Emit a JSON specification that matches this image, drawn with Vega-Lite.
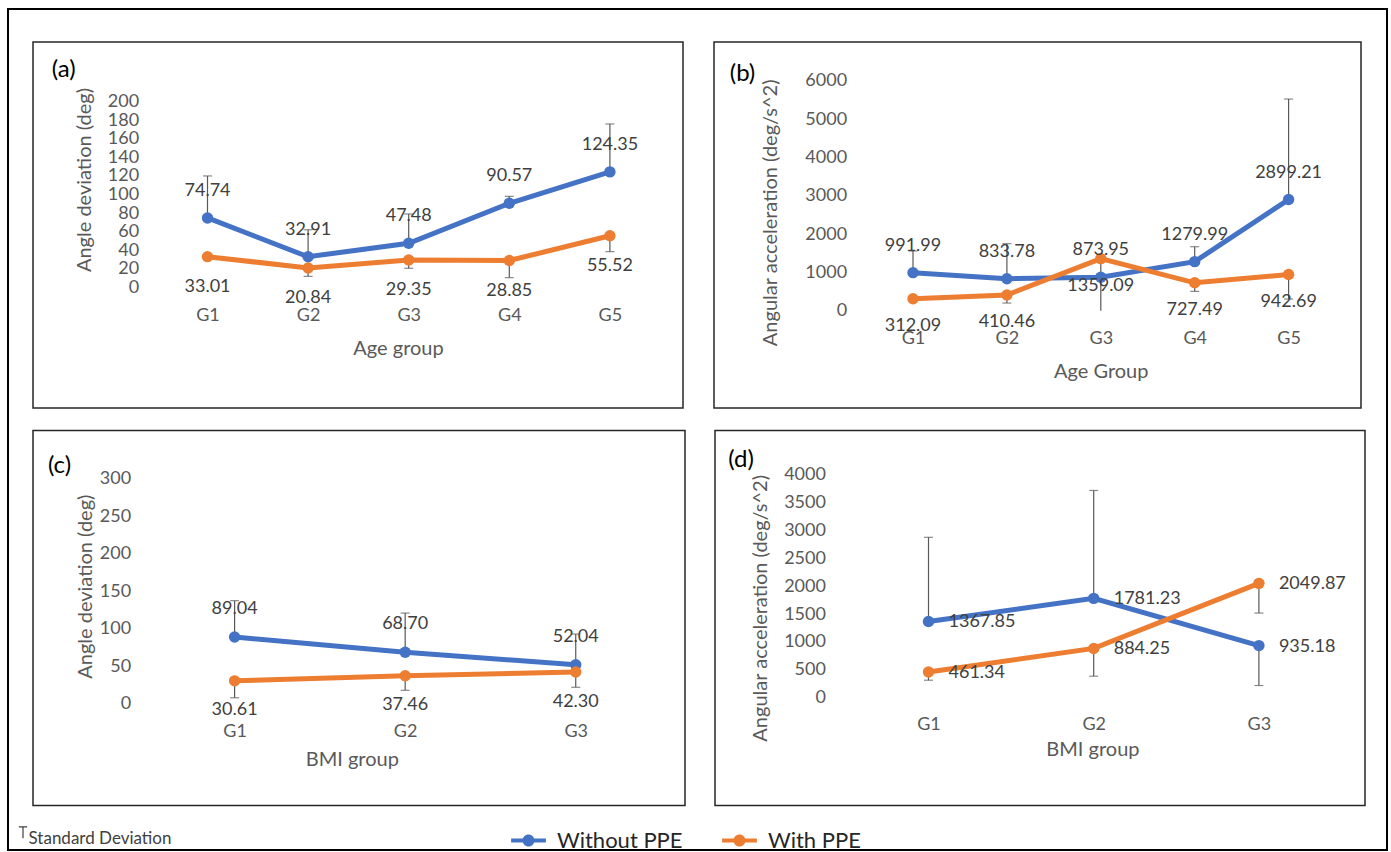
{
  "$schema": "https://vega.github.io/schema/vega-lite/v6.json",
  "padding": {"left": 8, "top": 9, "right": 0, "bottom": 0},
  "background": "white",
  "config": {
    "font": "Lato",
    "view": {"stroke": "#262626", "strokeWidth": 1.5},
    "axis": {"domain": false, "ticks": false, "tickSize": 0, "grid": false, "labelFont": "Lato", "titleFont": "Lato", "labelColor": "#595959", "titleColor": "#595959", "labelFontSize": 18, "titleFontSize": 20, "titleFontWeight": "normal", "labelFlush": false, "labelOverlap": false, "titleBaseline": "middle", "titleAlign": "center"},
    "axisX": {"labelPadding": 2},
    "axisY": {"labelPadding": 4, "titleAngle": -90, "format": "d"},
    "legend": {"labelFont": "Lato"}
  },
  "datasets": {
    "a": [
      {"g": 1, "series": "Without PPE", "v": 74.74, "end": 120},
      {"g": 2, "series": "Without PPE", "v": 32.91, "end": 62},
      {"g": 3, "series": "Without PPE", "v": 47.48, "end": 79},
      {"g": 4, "series": "Without PPE", "v": 90.57, "end": 98},
      {"g": 5, "series": "Without PPE", "v": 124.35, "end": 176},
      {"g": 1, "series": "With PPE", "v": 33.01, "end": null},
      {"g": 2, "series": "With PPE", "v": 20.84, "end": 11.8},
      {"g": 3, "series": "With PPE", "v": 29.35, "end": 20.5},
      {"g": 4, "series": "With PPE", "v": 28.85, "end": 10.4},
      {"g": 5, "series": "With PPE", "v": 55.52, "end": 38.4}
    ],
    "b": [
      {"g": 1, "series": "Without PPE", "v": 991.99, "end": 1557},
      {"g": 2, "series": "Without PPE", "v": 833.78, "end": 1748},
      {"g": 3, "series": "Without PPE", "v": 873.95, "end": null},
      {"g": 4, "series": "Without PPE", "v": 1279.99, "end": 1670},
      {"g": 5, "series": "Without PPE", "v": 2899.21, "end": 5522},
      {"g": 1, "series": "With PPE", "v": 312.09, "end": null},
      {"g": 2, "series": "With PPE", "v": 410.46, "end": 200},
      {"g": 3, "series": "With PPE", "v": 1359.09, "end": 0},
      {"g": 4, "series": "With PPE", "v": 727.49, "end": 504},
      {"g": 5, "series": "With PPE", "v": 942.69, "end": 304}
    ],
    "c": [
      {"g": 1, "series": "Without PPE", "v": 89.04, "end": 137.5},
      {"g": 2, "series": "Without PPE", "v": 68.70, "end": 121},
      {"g": 3, "series": "Without PPE", "v": 52.04, "end": 93},
      {"g": 1, "series": "With PPE", "v": 30.61, "end": 8},
      {"g": 2, "series": "With PPE", "v": 37.46, "end": 18},
      {"g": 3, "series": "With PPE", "v": 42.30, "end": 22}
    ],
    "d": [
      {"g": 1, "series": "Without PPE", "v": 1367.85, "end": 2875},
      {"g": 2, "series": "Without PPE", "v": 1781.23, "end": 3714},
      {"g": 3, "series": "Without PPE", "v": 935.18, "end": 220},
      {"g": 1, "series": "With PPE", "v": 461.34, "end": 315},
      {"g": 2, "series": "With PPE", "v": 884.25, "end": 387},
      {"g": 3, "series": "With PPE", "v": 2049.87, "end": 1518}
    ]
  },
  "spacing": 20.5,
  "vconcat": [
    {
      "spacing": 26,
      "hconcat": [
        {
          "width": 650,
          "height": 366,
          "data": {"name": "a"},
          "resolve": {"scale": {"x": "independent"}, "axis": {"x": "independent"}},
          "layer": [
            {
              "encoding": {
                "x": {"field": "g", "type": "quantitative", "scale": {"domain": [-0.7346, 5.7266], "nice": false, "zero": false}, "axis": {"orient": "bottom", "offset": -104, "values": [1, 2, 3, 4, 5], "labelExpr": "'G' + datum.value", "title": "Age group", "titleX": 365, "titleY": 44}},
                "y": {"field": "v", "type": "quantitative", "scale": {"domain": [-130.06, 264.33], "nice": false, "zero": false}, "axis": {"orient": "left", "offset": -109.6, "values": [0, 20, 40, 60, 80, 100, 120, 140, 160, 180, 200], "title": "Angle deviation (deg)", "titleX": -58.6, "titleY": 137.5}}
              },
              "layer": [
                {
                  "data": {"values": [{"v": 0}, {"v": 20}, {"v": 40}, {"v": 60}, {"v": 80}, {"v": 100}, {"v": 120}, {"v": 140}, {"v": 160}, {"v": 180}, {"v": 200}]},
                  "mark": {"type": "rule", "color": "#D9D9D9", "strokeWidth": 1.3},
                  "encoding": {"x": {"datum": 0.5}, "x2": {"datum": 5.5}, "y": {"field": "v", "type": "quantitative"}}
                },
                {
                  "data": {"values": [{"frame": 0}]},
                  "mark": {"type": "rule", "strokeWidth": 0.1},
                  "encoding": {
                    "y": {"datum": 0, "type": "quantitative"},
                    "stroke": {"datum": 0, "type": "quantitative", "scale": {"domain": [0, 1], "range": ["transparent", "transparent"]}, "legend": {"orient": "none", "legendX": -25, "legendY": -33, "direction": "vertical", "title": null, "values": [], "gradientLength": 841, "gradientThickness": 1379, "gradientStrokeColor": "#000000", "gradientStrokeWidth": 2, "padding": 0, "labelOffset": 0}}
                  }
                },
                {
                  "transform": [{"filter": "datum.end != null"}],
                  "mark": {"type": "rule", "color": "#595959", "strokeWidth": 1.2},
                  "encoding": {
                    "y2": {"field": "end"},
                    "strokeDash": {"datum": "Standard Deviation", "type": "nominal", "scale": {"domain": ["Standard Deviation"], "range": [[1, 0]]}, "legend": {"orient": "none", "legendX": -18.5, "legendY": 782, "title": null, "symbolType": "M-0.55,-0.75H0.55M0,-0.75V0.75", "symbolSize": 225, "symbolStrokeColor": "#404040", "symbolStrokeWidth": 1.2, "symbolFillColor": "transparent", "labelFontSize": 17, "labelColor": "#404040", "labelOffset": -3, "padding": 0, "encode": {"labels": {"update": {"dy": {"value": 6.5}}}}}}
                  }
                },
                {
                  "transform": [{"filter": "datum.end != null"}],
                  "mark": {"type": "tick", "orient": "horizontal", "color": "#595959", "size": 9, "thickness": 1.2},
                  "encoding": {"y": {"field": "end", "type": "quantitative"}}
                },
                {
                  "mark": {"type": "line", "strokeWidth": 5},
                  "encoding": {"color": {"field": "series", "type": "nominal", "scale": {"domain": ["Without PPE", "With PPE"], "range": ["#4472C4", "#ED7D31"]}, "legend": {"orient": "none", "legendX": 484.5, "legendY": 787.5, "direction": "horizontal", "title": null, "symbolType": "M-2.9,-0.33H2.9V0.33H-2.9Z M1,0A1,1,0,1,1,-1,0A1,1,0,1,1,1,0Z", "symbolSize": 144, "symbolStrokeWidth": 0, "symbolOpacity": 1, "labelFontSize": 22, "labelColor": "#262626", "labelOffset": 17.5, "columnPadding": 38, "padding": 0, "encode": {"symbols": {"update": {"fill": {"scale": "color", "field": "value"}, "strokeWidth": {"value": 0}}}}}}}
                },
                {
                  "mark": {"type": "point", "filled": true, "size": 130, "opacity": 1},
                  "encoding": {"color": {"field": "series", "type": "nominal", "scale": {"domain": ["Without PPE", "With PPE"], "range": ["#4472C4", "#ED7D31"]}, "legend": {"orient": "none", "legendX": 484.5, "legendY": 787.5, "direction": "horizontal", "title": null, "symbolType": "M-2.9,-0.33H2.9V0.33H-2.9Z M1,0A1,1,0,1,1,-1,0A1,1,0,1,1,1,0Z", "symbolSize": 144, "symbolStrokeWidth": 0, "symbolOpacity": 1, "labelFontSize": 22, "labelColor": "#262626", "labelOffset": 17.5, "columnPadding": 38, "padding": 0, "encode": {"symbols": {"update": {"fill": {"scale": "color", "field": "value"}, "strokeWidth": {"value": 0}}}}}}}
                },
                {
                  "transform": [{"filter": "datum.series == 'Without PPE'"}],
                  "mark": {"type": "text", "dy": -27, "fontSize": 18, "color": "#404040", "baseline": "middle"},
                  "encoding": {"text": {"field": "v", "type": "quantitative", "format": ".2f"}}
                },
                {
                  "transform": [{"filter": "datum.series == 'With PPE'"}],
                  "mark": {"type": "text", "dy": 30, "fontSize": 18, "color": "#404040", "baseline": "middle"},
                  "encoding": {"text": {"field": "v", "type": "quantitative", "format": ".2f"}}
                }
              ]
            },
            {
              "data": {"values": [{"k": 0}]},
              "mark": {"type": "point", "opacity": 0},
              "encoding": {"x": {"datum": 0, "type": "quantitative", "axis": {"orient": "top", "labels": false, "domain": false, "ticks": false, "grid": false, "title": "(a)", "titleX": 30.2, "titleY": 27, "titleColor": "#000000", "titleFontSize": 24, "titleAngle": 0, "titleAlign": "center", "titleBaseline": "middle"}}}
            }
          ]
        },
        {
          "width": 647,
          "height": 366,
          "data": {"name": "b"},
          "resolve": {"scale": {"x": "independent"}, "axis": {"x": "independent"}},
          "layer": [
            {
              "encoding": {
                "x": {"field": "g", "type": "quantitative", "scale": {"domain": [-1.1193, 5.771], "nice": false, "zero": false}, "axis": {"orient": "bottom", "offset": -81, "values": [1, 2, 3, 4, 5], "labelExpr": "'G' + datum.value", "title": "Age Group", "titleX": 386.7, "titleY": 44.7}},
                "y": {"field": "v", "type": "quantitative", "scale": {"domain": [-2538.3, 7009.6], "nice": false, "zero": false}, "axis": {"orient": "left", "offset": -136.6, "values": [0, 1000, 2000, 3000, 4000, 5000, 6000], "title": "Angular acceleration (deg/s^2)", "titleX": -80.6, "titleY": 170.3}}
              },
              "layer": [
                {
                  "data": {"values": [{"v": 0}, {"v": 1000}, {"v": 2000}, {"v": 3000}, {"v": 4000}, {"v": 5000}, {"v": 6000}]},
                  "mark": {"type": "rule", "color": "#D9D9D9", "strokeWidth": 1.3},
                  "encoding": {"x": {"datum": 0.5}, "x2": {"datum": 5.5}, "y": {"field": "v", "type": "quantitative"}}
                },
                {
                  "transform": [{"filter": "datum.end != null"}],
                  "mark": {"type": "rule", "color": "#595959", "strokeWidth": 1.2},
                  "encoding": {"y2": {"field": "end"}}
                },
                {
                  "transform": [{"filter": "datum.end != null && datum.end > 0"}],
                  "mark": {"type": "tick", "orient": "horizontal", "color": "#595959", "size": 9, "thickness": 1.2},
                  "encoding": {"y": {"field": "end", "type": "quantitative"}}
                },
                {
                  "mark": {"type": "line", "strokeWidth": 5},
                  "encoding": {"color": {"field": "series", "type": "nominal", "scale": {"domain": ["Without PPE", "With PPE"], "range": ["#4472C4", "#ED7D31"]}}}
                },
                {
                  "mark": {"type": "point", "filled": true, "size": 130, "opacity": 1},
                  "encoding": {"color": {"field": "series", "type": "nominal", "scale": {"domain": ["Without PPE", "With PPE"], "range": ["#4472C4", "#ED7D31"]}}}
                },
                {
                  "transform": [{"filter": "datum.series == 'Without PPE'"}],
                  "mark": {"type": "text", "dy": -27, "fontSize": 18, "color": "#404040", "baseline": "middle"},
                  "encoding": {"text": {"field": "v", "type": "quantitative", "format": ".2f"}}
                },
                {
                  "transform": [{"filter": "datum.series == 'With PPE'"}],
                  "mark": {"type": "text", "dy": 27, "fontSize": 18, "color": "#404040", "baseline": "middle"},
                  "encoding": {"text": {"field": "v", "type": "quantitative", "format": ".2f"}}
                }
              ]
            },
            {
              "data": {"values": [{"k": 0}]},
              "mark": {"type": "point", "opacity": 0},
              "encoding": {"x": {"datum": 0, "type": "quantitative", "axis": {"orient": "top", "labels": false, "domain": false, "ticks": false, "grid": false, "title": "(b)", "titleX": 28, "titleY": 31, "titleColor": "#000000", "titleFontSize": 24, "titleAngle": 0, "titleAlign": "center", "titleBaseline": "middle"}}}
            }
          ]
        }
      ]
    },
    {
      "spacing": 25,
      "hconcat": [
        {
          "width": 652,
          "height": 375,
          "data": {"name": "c"},
          "resolve": {"scale": {"x": "independent"}, "axis": {"x": "independent"}},
          "layer": [
            {
              "encoding": {
                "x": {"field": "g", "type": "quantitative", "scale": {"domain": [-0.1819, 3.6406], "nice": false, "zero": false}, "axis": {"orient": "bottom", "offset": -85, "values": [1, 2, 3], "labelExpr": "'G' + datum.value", "title": "BMI group", "titleX": 318.8, "titleY": 39}},
                "y": {"field": "v", "type": "quantitative", "scale": {"domain": [-135.6, 364.4], "nice": false, "zero": false}, "axis": {"orient": "left", "offset": -101.6, "values": [0, 50, 100, 150, 200, 250, 300], "title": "Angle deviation (deg)", "titleX": -49.1, "titleY": 155.7}}
              },
              "layer": [
                {
                  "data": {"values": [{"v": 0}, {"v": 50}, {"v": 100}, {"v": 150}, {"v": 200}, {"v": 250}, {"v": 300}]},
                  "mark": {"type": "rule", "color": "#D9D9D9", "strokeWidth": 1.3},
                  "encoding": {"x": {"datum": 0.5}, "x2": {"datum": 3.5}, "y": {"field": "v", "type": "quantitative"}}
                },
                {
                  "transform": [{"filter": "datum.end != null"}],
                  "mark": {"type": "rule", "color": "#595959", "strokeWidth": 1.2},
                  "encoding": {"y2": {"field": "end"}}
                },
                {
                  "transform": [{"filter": "datum.end != null"}],
                  "mark": {"type": "tick", "orient": "horizontal", "color": "#595959", "size": 9, "thickness": 1.2},
                  "encoding": {"y": {"field": "end", "type": "quantitative"}}
                },
                {
                  "mark": {"type": "line", "strokeWidth": 5},
                  "encoding": {"color": {"field": "series", "type": "nominal", "scale": {"domain": ["Without PPE", "With PPE"], "range": ["#4472C4", "#ED7D31"]}}}
                },
                {
                  "mark": {"type": "point", "filled": true, "size": 130, "opacity": 1},
                  "encoding": {"color": {"field": "series", "type": "nominal", "scale": {"domain": ["Without PPE", "With PPE"], "range": ["#4472C4", "#ED7D31"]}}}
                },
                {
                  "transform": [{"filter": "datum.series == 'Without PPE'"}],
                  "mark": {"type": "text", "dy": -28, "fontSize": 18, "color": "#404040", "baseline": "middle"},
                  "encoding": {"text": {"field": "v", "type": "quantitative", "format": ".2f"}}
                },
                {
                  "transform": [{"filter": "datum.series == 'With PPE'"}],
                  "mark": {"type": "text", "dy": 29.5, "fontSize": 18, "color": "#404040", "baseline": "middle"},
                  "encoding": {"text": {"field": "v", "type": "quantitative", "format": ".2f"}}
                }
              ]
            },
            {
              "data": {"values": [{"k": 0}]},
              "mark": {"type": "point", "opacity": 0},
              "encoding": {"x": {"datum": 0, "type": "quantitative", "axis": {"orient": "top", "labels": false, "domain": false, "ticks": false, "grid": false, "title": "(c)", "titleX": 26, "titleY": 35, "titleColor": "#000000", "titleFontSize": 24, "titleAngle": 0, "titleAlign": "center", "titleBaseline": "middle"}}}
            }
          ]
        },
        {
          "width": 650,
          "height": 375,
          "data": {"name": "d"},
          "resolve": {"scale": {"x": "independent"}, "axis": {"x": "independent"}},
          "layer": [
            {
              "encoding": {
                "x": {"field": "g", "type": "quantitative", "scale": {"domain": [-0.2924, 3.6422], "nice": false, "zero": false}, "axis": {"orient": "bottom", "offset": -91.7, "values": [1, 2, 3], "labelExpr": "'G' + datum.value", "title": "BMI group", "titleX": 377.4, "titleY": 35.7}},
                "y": {"field": "v", "type": "quantitative", "scale": {"domain": [-1929.3, 4788.2], "nice": false, "zero": false}, "axis": {"orient": "left", "offset": -114.4, "values": [0, 500, 1000, 1500, 2000, 2500, 3000, 3500, 4000], "title": "Angular acceleration (deg/s^2)", "titleX": -69, "titleY": 177.3}}
              },
              "layer": [
                {
                  "data": {"values": [{"v": 0}, {"v": 500}, {"v": 1000}, {"v": 1500}, {"v": 2000}, {"v": 2500}, {"v": 3000}, {"v": 3500}, {"v": 4000}]},
                  "mark": {"type": "rule", "color": "#D9D9D9", "strokeWidth": 1.3},
                  "encoding": {"x": {"datum": 0.5}, "x2": {"datum": 3.5}, "y": {"field": "v", "type": "quantitative"}}
                },
                {
                  "transform": [{"filter": "datum.end != null"}],
                  "mark": {"type": "rule", "color": "#595959", "strokeWidth": 1.2},
                  "encoding": {"y2": {"field": "end"}}
                },
                {
                  "transform": [{"filter": "datum.end != null"}],
                  "mark": {"type": "tick", "orient": "horizontal", "color": "#595959", "size": 9, "thickness": 1.2},
                  "encoding": {"y": {"field": "end", "type": "quantitative"}}
                },
                {
                  "mark": {"type": "line", "strokeWidth": 5},
                  "encoding": {"color": {"field": "series", "type": "nominal", "scale": {"domain": ["Without PPE", "With PPE"], "range": ["#4472C4", "#ED7D31"]}}}
                },
                {
                  "mark": {"type": "point", "filled": true, "size": 130, "opacity": 1},
                  "encoding": {"color": {"field": "series", "type": "nominal", "scale": {"domain": ["Without PPE", "With PPE"], "range": ["#4472C4", "#ED7D31"]}}}
                },
                {
                  "mark": {"type": "text", "dx": 20, "dy": 1, "align": "left", "fontSize": 18, "color": "#404040", "baseline": "middle"},
                  "encoding": {"text": {"field": "v", "type": "quantitative", "format": ".2f"}}
                }
              ]
            },
            {
              "data": {"values": [{"k": 0}]},
              "mark": {"type": "point", "opacity": 0},
              "encoding": {"x": {"datum": 0, "type": "quantitative", "axis": {"orient": "top", "labels": false, "domain": false, "ticks": false, "grid": false, "title": "(d)", "titleX": 25.5, "titleY": 29, "titleColor": "#000000", "titleFontSize": 24, "titleAngle": 0, "titleAlign": "center", "titleBaseline": "middle"}}}
            }
          ]
        }
      ]
    }
  ]
}
